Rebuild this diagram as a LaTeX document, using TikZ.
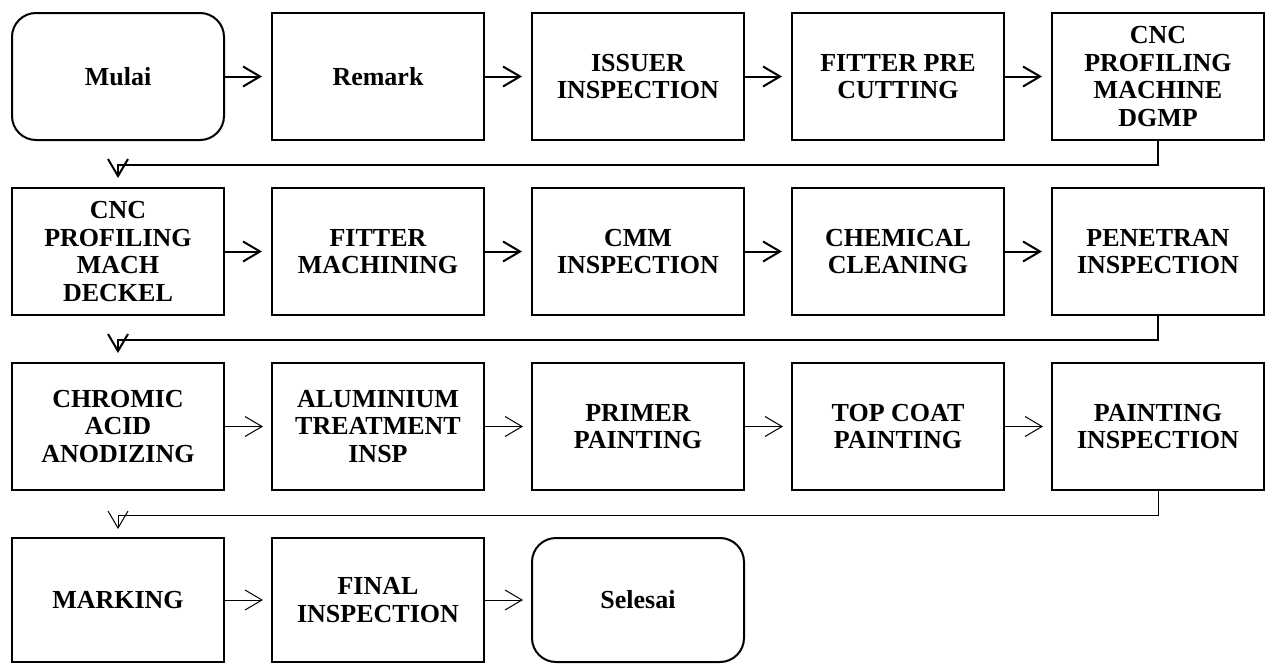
\documentclass[tikz,border=0pt]{standalone}
\usepackage{fontspec}
\setmainfont{Liberation Serif}
\usetikzlibrary{arrows.meta,positioning}

\begin{document}
\begin{tikzpicture}[font=\bfseries\fontsize{13}{13.7}\selectfont, >={Straight Barb[length=8.5pt,width=10pt]}, node distance=23pt and 23pt,
proc/.style={draw, line width=1pt, align=center, minimum width=106pt, minimum height=63.5pt, inner sep=2pt},
term/.style={proc, rounded corners=12pt},
lastrow/.style={minimum height=62pt},
flow/.style={->, line width=1pt, shorten >=4.5pt},
thinflow/.style={->, line width=0.5pt, shorten >=4pt}]
\useasboundingbox (0,0) rectangle (635.5pt,-332pt);
% row 1
\node[term] (mulai) at (59pt,-38.25pt) {Mulai};
\node[proc, right=of mulai] (remark) {Remark};
\node[proc, right=of remark] (issuer) {ISSUER\\INSPECTION};
\node[proc, right=of issuer] (precut) {FITTER PRE\\CUTTING};
\node[proc, right=of precut] (dgmp) {CNC\\PROFILING\\MACHINE\\DGMP};
% row 2
\node[proc, below=of mulai] (deckel) {CNC\\PROFILING\\MACH\\DECKEL};
\node[proc, right=of deckel] (machining) {FITTER\\MACHINING};
\node[proc, right=of machining] (cmm) {CMM\\INSPECTION};
\node[proc, right=of cmm] (chemclean) {CHEMICAL\\CLEANING};
\node[proc, right=of chemclean] (penetran) {PENETRAN\\INSPECTION};
% row 3
\node[proc, below=of deckel] (anodize) {CHROMIC\\ACID\\ANODIZING};
\node[proc, right=of anodize] (alutreat) {ALUMINIUM\\TREATMENT\\INSP};
\node[proc, right=of alutreat] (primer) {PRIMER\\PAINTING};
\node[proc, right=of primer] (topcoat) {TOP COAT\\PAINTING};
\node[proc, right=of topcoat] (paintinsp) {PAINTING\\INSPECTION};
% row 4
\node[proc, lastrow, below=of anodize] (marking) {MARKING};
\node[proc, lastrow, right=of marking] (finalinsp) {FINAL\\INSPECTION};
\node[term, lastrow, right=of finalinsp] (selesai) {Selesai};
% connectors
\draw[flow] (mulai)--(remark); \draw[flow] (remark)--(issuer); \draw[flow] (issuer)--(precut); \draw[flow] (precut)--(dgmp);
\draw[flow] (dgmp.south)--++(0,-12pt)-|(deckel.north);
\draw[flow] (deckel)--(machining); \draw[flow] (machining)--(cmm); \draw[flow] (cmm)--(chemclean); \draw[flow] (chemclean)--(penetran);
\draw[flow] (penetran.south)--++(0,-12pt)-|(anodize.north);
\draw[thinflow] (anodize)--(alutreat); \draw[thinflow] (alutreat)--(primer); \draw[thinflow] (primer)--(topcoat); \draw[thinflow] (topcoat)--(paintinsp);
\draw[thinflow] (paintinsp.south)--++(0,-12pt)-|(marking.north);
\draw[thinflow] (marking)--(finalinsp); \draw[thinflow] (finalinsp)--(selesai);
\end{tikzpicture}
\end{document}
